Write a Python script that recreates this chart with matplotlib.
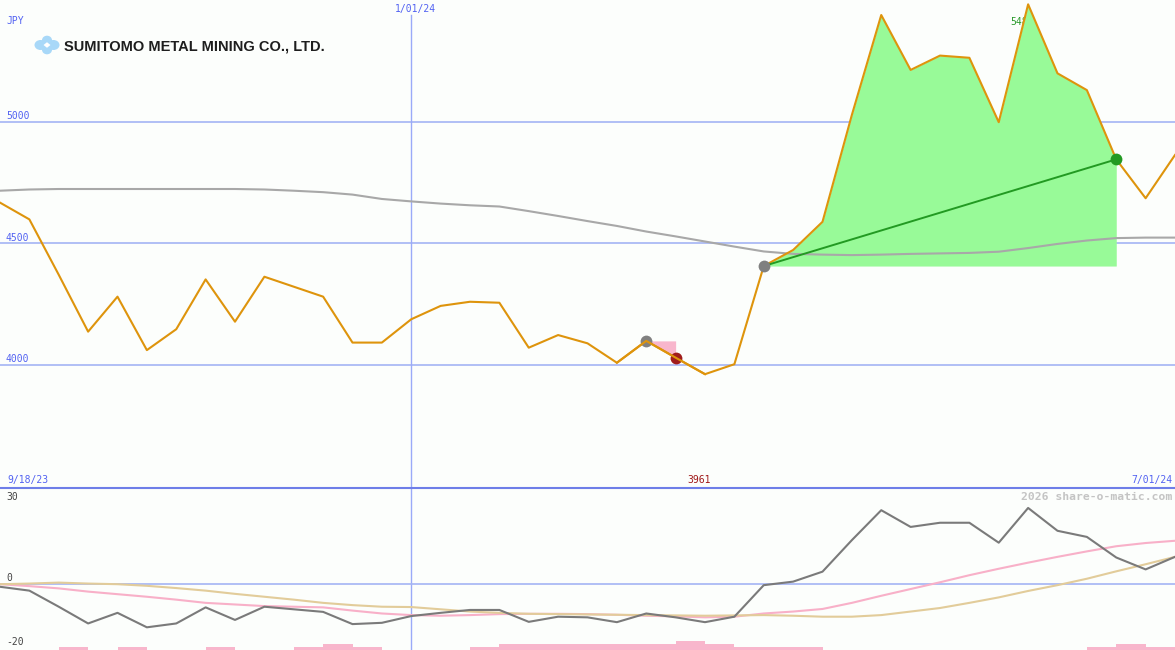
import matplotlib
matplotlib.use("Agg")
import matplotlib.pyplot as plt
from matplotlib.patches import Ellipse, Polygon
from matplotlib.lines import Line2D
import numpy as np

# ---------------- data (weekly, index 0 .. 40) ----------------
close = [4667, 4598, 4370, 4136, 4280, 4060, 4146, 4351, 4177, 4362,
         4321, 4280, 4091, 4091, 4187, 4242, 4259, 4255, 4070, 4122,
         4088, 4008, 4098, 4029, 3961, 4002, 4406, 4472, 4588, 5028,
         5439, 5213, 5272, 5263, 4998, 5483, 5199, 5130, 4845, 4685, 4863]
ma_long = [4716, 4721, 4723, 4723, 4723, 4723, 4723, 4723, 4723, 4721,
           4716, 4710, 4700, 4682, 4672, 4663, 4656, 4651, 4632, 4612,
           4591, 4571, 4548, 4528, 4507, 4486, 4466, 4456, 4453, 4451,
           4453, 4456, 4458, 4460, 4465, 4480, 4497, 4511, 4521, 4523, 4523]
osc_momentum = [-1.0, -2.2, -7.2, -12.4, -9.1, -13.6, -12.4, -7.4, -11.3, -7.2,
                -8.0, -8.8, -12.6, -12.2, -10.1, -9.1, -8.2, -8.2, -11.9, -10.3,
                -10.5, -12.0, -9.3, -10.5, -12.0, -10.3, -0.5, 0.6, 3.7, 13.5,
                22.8, 17.6, 18.9, 18.9, 12.7, 23.5, 16.4, 14.5, 8.1, 4.4, 8.3]
osc_fast = [-0.2, -0.8, -1.5, -2.5, -3.3, -4.1, -5.0, -6.0, -6.5, -7.0,
            -7.2, -7.4, -8.4, -9.3, -9.8, -10.0, -9.8, -9.5, -9.4, -9.4,
            -9.5, -9.7, -10.0, -10.2, -10.5, -10.3, -9.3, -8.7, -7.9, -6.0,
            -3.8, -1.7, 0.4, 2.6, 4.6, 6.5, 8.3, 10.0, 11.6, 12.6, 13.3]
osc_slow = [-0.2, 0.0, 0.3, 0.0, -0.2, -0.7, -1.4, -2.2, -3.2, -4.1,
            -5.0, -6.0, -6.7, -7.2, -7.3, -8.0, -8.7, -9.1, -9.4, -9.5,
            -9.6, -9.7, -9.8, -9.9, -10.0, -9.9, -9.8, -10.0, -10.3, -10.3,
            -9.8, -8.7, -7.6, -6.0, -4.3, -2.3, -0.5, 1.5, 3.8, 6.0, 8.3]
# bars between week i and i+1 (40 intervals)
vol_bars = [0, 0, 0.9, 0, 0.9, 0, 0, 0.9, 0, 0,
            0.9, 1.9, 0.9, 0, 0, 0, 0.9, 1.9, 1.9, 1.9,
            1.9, 1.9, 1.9, 2.8, 1.9, 0.9, 0.9, 0.9, 0, 0,
            0, 0, 0, 0, 0, 0, 0, 0.9, 1.9, 0.9]
price_ticks = [4000, 4500, 5000]
osc_ticks = [30, 0, -20]
date_labels = ["9/18/23", "1/01/24", "7/01/24"]
year_line_idx = 14
trade_loss = (22, 23)
trade_gain = (26, 38)
min_label = "3961"
max_label = "5483"

# ---------------- layout ----------------
W, H = 1175, 650
fig = plt.figure(figsize=(W / 100, H / 100), dpi=100)
bg = "#fcfefc"
fig.patch.set_facecolor(bg)

x = np.arange(len(close))

ax = fig.add_axes([0, (H - 487) / H, 1, 487 / H])
ax.set_xlim(0, 40)
ax.set_ylim(3496.7, 5500.8)
ax.set_facecolor(bg)
ax.axis("off")

ax2 = fig.add_axes([0, 0, 1, 162 / H])
ax2.set_xlim(0, 40)
ax2.set_ylim(-20.65, 29.7)
ax2.set_facecolor(bg)
ax2.axis("off")

grid_c = "#a4b4f4"
vline_c = "#9aaaf8"
lab_c = "#5262f2"
for p in price_ticks:
    ax.axhline(p, color=grid_c, lw=1.2, zorder=0.5)
ax.axvline(year_line_idx, ymax=1 - 15 / 487, color=vline_c, lw=1.0, zorder=0.5)
ax2.axvline(year_line_idx, color=vline_c, lw=1.0, zorder=0.5)
ax2.axhline(0, color=grid_c, lw=1.2, zorder=0.5)

# fills
a, b = trade_loss
ax.fill_between(x[a:b + 1], close[a:b + 1], close[a], color="#f8b6cc", lw=0, zorder=1)
a, b = trade_gain
ax.fill_between(x[a:b + 1], close[a:b + 1], close[a], color="#98fa98", lw=0, zorder=2)

# max label (partly hidden by fill)
ax.text(34.38, 5500.8 - 25 * 4.115, max_label, color="#2a9a2a", fontsize=7,
        family="DejaVu Sans Mono", va="baseline", ha="left", zorder=1.5)

ax.plot(x, ma_long, color="#a8a8a8", lw=1.5, zorder=3)
ax.plot(x, close, color="#de940c", lw=1.5, zorder=4)
ax.plot([trade_gain[0], trade_gain[1]], [close[trade_gain[0]], close[trade_gain[1]]],
        color="#229a22", lw=1.4, zorder=5)
ms = 8.5
ax.plot(trade_loss[0], close[trade_loss[0]], "o", color="#808080", ms=ms, mew=0, zorder=6)
ax.plot(trade_loss[1], close[trade_loss[1]], "o", color="#a01c1c", ms=ms, mew=0, zorder=6)
ax.plot(trade_gain[0], close[trade_gain[0]], "o", color="#808080", ms=ms, mew=0, zorder=6)
ax.plot(trade_gain[1], close[trade_gain[1]], "o", color="#229a22", ms=ms, mew=0, zorder=6)
# price line drawn over the markers of the loss trade
ax.plot(x[21:25], close[21:25], color="#de940c", lw=1.5, zorder=7)

# lower panel
ax2.bar(x[:-1], vol_bars, width=1, align="edge", bottom=-20.65, color="#f8b6cc", lw=0, zorder=1)
ax2.plot(x, osc_fast, color="#f8b0c8", lw=1.5, zorder=2)
ax2.plot(x, osc_slow, color="#e2cc9a", lw=1.5, zorder=3)
ax2.plot(x, osc_momentum, color="#7a7a7a", lw=1.5, zorder=4)

# divider
fig.add_artist(Line2D([0, 1], [1 - 487.5 / H] * 2, color="#6e7ee8", lw=1.5))

# overlay in pixel coordinates for labels / logo
ov = fig.add_axes([0, 0, 1, 1])
ov.set_xlim(0, W)
ov.set_ylim(H, 0)
ov.axis("off")
ov.patch.set_alpha(0)

mono = "DejaVu Sans Mono"
fs = 7
ov.text(6, 24.5, "JPY", color=lab_c, fontsize=fs, family=mono, va="baseline")
ov.text(415, 12, date_labels[1], color=lab_c, fontsize=fs, family=mono, va="baseline", ha="center")
for p in price_ticks:
    ypx = 364.7 - (p - 4000) / 4.115
    ov.text(6, ypx - 2.5, str(p), color=lab_c, fontsize=fs, family=mono, va="baseline")
ov.text(7, 483, date_labels[0], color=lab_c, fontsize=fs, family=mono, va="baseline")
ov.text(1172, 483, date_labels[2], color=lab_c, fontsize=fs, family=mono, va="baseline", ha="right")
ov.text(699, 483, min_label, color="#a01818", fontsize=fs, family=mono, va="baseline", ha="center")
ov.text(1172, 499.5, "2026 share-o-matic.com", color="#c4c4c4", fontsize=8.2,
        family=mono, fontweight="bold", va="baseline", ha="right")
for v in osc_ticks:
    ypx = {30: 499.5, 0: 581, -20: 645}[v]
    ov.text(6, ypx, str(v), color="#444444", fontsize=fs, family=mono, va="baseline")

# logo
ic = "#a8d8f8"
cx, cy = 47, 45
for dx, dy, w, h in [(-6.5, 0, 12, 10), (6.5, 0, 12, 10), (0, -4.8, 10, 9), (0, 4.8, 10, 9)]:
    ov.add_patch(Ellipse((cx + dx, cy + dy), w, h, color=ic, lw=0))
ov.add_patch(Polygon([(cx - 3.5, cy), (cx, cy - 2.8), (cx + 3.5, cy), (cx, cy + 2.8)],
                     closed=True, color="white", lw=0))
t = ov.text(64, 50.5, "SUMITOMO METAL MINING CO., LTD.", color="#1e1e1e",
            family="Liberation Sans", fontweight="bold", fontsize=11, va="baseline")
fig.canvas.draw()
bb = t.get_window_extent()
t.set_fontsize(11 * 258 / bb.width)

fig.savefig("out.png", dpi=100, facecolor=bg)
